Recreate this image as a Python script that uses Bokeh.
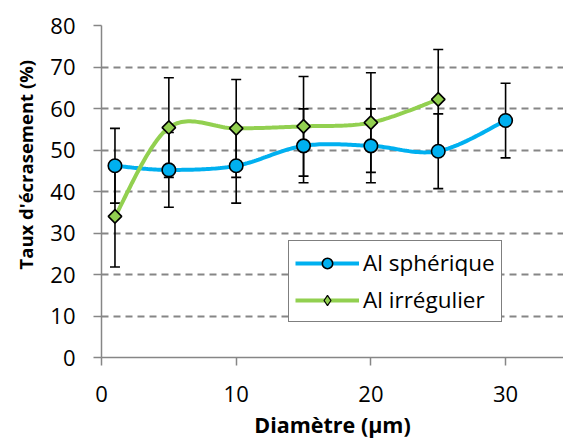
import math
import numpy as np
from bokeh.plotting import figure
from bokeh.models import (Range1d, FixedTicker, ColumnDataSource, Whisker, TeeHead,
                          Legend, LegendItem, Title)
from bokeh.embed import file_html
from bokeh.resources import INLINE

# ---- data ----
diam_sph = [1, 5, 10, 15, 20, 25, 30]
taux_sph = [46.2, 45.2, 46.2, 51.0, 51.0, 49.7, 57.1]
err_sph = [9.0, 9.0, 9.0, 8.9, 8.9, 9.0, 9.0]

diam_irr = [1, 5, 10, 15, 20, 25]
taux_irr = [34.0, 55.4, 55.2, 55.7, 56.6, 62.2]
err_irr = [12.2, 12.0, 11.8, 12.0, 12.0, 12.0]

x_ticks = [0, 10, 20, 30]
y_ticks = [0, 10, 20, 30, 40, 50, 60, 70, 80]

BLUE = "#00B0F0"
GREEN = "#92D050"
GRID = "#868686"
FONT = "Open Sans"


def smooth(xs, ys, n=30):
    """Excel-like smoothed line: cubic Bezier with Catmull-Rom control points."""
    P = np.column_stack([xs, ys]).astype(float)
    out = []
    m = len(P)
    for i in range(m - 1):
        p0 = P[i - 1] if i > 0 else P[i]
        p1 = P[i]
        p2 = P[i + 1]
        p3 = P[i + 2] if i + 2 < m else P[i + 1]
        c1 = p1 + (p2 - p0) / 6.0
        c2 = p2 - (p3 - p1) / 6.0
        t = np.linspace(0, 1, n, endpoint=(i == m - 2))[:, None]
        seg = ((1 - t) ** 3) * p1 + 3 * ((1 - t) ** 2) * t * c1 + 3 * (1 - t) * t ** 2 * c2 + t ** 3 * p2
        out.append(seg)
    c = np.vstack(out)
    return c[:, 0], c[:, 1]


p = figure(width=563, height=441, output_backend="svg", toolbar_location=None,
           x_range=Range1d(0, 34.3), y_range=Range1d(0, 80),
           min_border_left=100, min_border_right=0, min_border_top=25, min_border_bottom=83)
p.outline_line_color = None
p.background_fill_color = "white"
p.border_fill_color = "white"

# axes
for ax in (p.xaxis[0], p.yaxis[0]):
    ax.axis_line_color = GRID
    ax.axis_line_width = 1.5
    ax.major_tick_line_color = GRID
    ax.major_tick_line_width = 1.5
    ax.major_tick_out = 8
    ax.major_tick_in = 0
    ax.minor_tick_line_color = None
    ax.major_label_text_font = FONT
    ax.major_label_text_font_size = "22px"
    ax.major_label_text_color = "black"

p.xaxis.ticker = FixedTicker(ticks=x_ticks)
p.yaxis.ticker = FixedTicker(ticks=y_ticks)
p.xaxis.major_label_standoff = 20
p.yaxis.major_label_standoff = 18

p.xaxis.axis_label = "Diamètre (µm)"
p.xaxis.axis_label_text_font = FONT
p.xaxis.axis_label_text_font_style = "bold"
p.xaxis.axis_label_text_font_size = "21.5px"
p.xaxis.axis_label_text_color = "black"
p.xaxis.axis_label_standoff = 5

p.xgrid.grid_line_color = None
p.ygrid.ticker = FixedTicker(ticks=y_ticks[1:])
p.ygrid.grid_line_color = GRID
p.ygrid.grid_line_width = 1.8
p.ygrid.grid_line_dash = "7 5"

ytitle = Title(text="Taux d'écrasement (%)", align="left", offset=88,
               text_font=FONT, text_font_style="bold", text_font_size="18.5px",
               text_color="black", standoff=20)
p.add_layout(ytitle, "left")

# error bars
for xs, ys, es in ((diam_sph, taux_sph, err_sph), (diam_irr, taux_irr, err_irr)):
    src = ColumnDataSource(dict(x=xs, up=[y + e for y, e in zip(ys, es)],
                                lo=[y - e for y, e in zip(ys, es)]))
    w = Whisker(base="x", upper="up", lower="lo", source=src, dimension="height",
                line_color="black", line_width=1.6,
                upper_head=TeeHead(size=10, line_color="black", line_width=1.6),
                lower_head=TeeHead(size=10, line_color="black", line_width=1.6),
                level="underlay")
    p.add_layout(w)

# lines
sx, sy = smooth(diam_sph, taux_sph)
ix, iy = smooth(diam_irr, taux_irr)
l1 = p.line(sx, sy, line_color=BLUE, line_width=4)
l2 = p.line(ix, iy, line_color=GREEN, line_width=4)
m1 = p.scatter(diam_sph, taux_sph, marker="circle", size=13.5, fill_color=BLUE,
               line_color="black", line_width=1.6)
# legend glyph for the green series (the legend ignores marker rotation); it sits
# on the first green point and is fully covered by the rotated-square marker drawn next
m2_leg = p.scatter(diam_irr[:1], taux_irr[:1], marker="diamond", size=12,
                   fill_color=GREEN, line_color="black", line_width=1.2)
m2 = p.scatter(diam_irr, taux_irr, marker="square", angle=math.pi / 4, size=9.5,
               fill_color=GREEN, line_color="black", line_width=1.6)

legend = Legend(items=[LegendItem(label="Al sphérique", renderers=[l1, m1]),
                       LegendItem(label="Al irrégulier", renderers=[l2, m2_leg])],
                location=(187, 35))
legend.label_text_font = FONT
legend.label_text_font_size = "22.5px"
legend.label_text_color = "black"
legend.border_line_color = "black"
legend.border_line_width = 1.5
legend.background_fill_alpha = 1.0
legend.padding = 6
legend.margin = 0
legend.spacing = 6
legend.glyph_width = 64
legend.glyph_height = 26
legend.label_height = 26
legend.label_standoff = 4
p.add_layout(legend)

open("out.html", "w").write(file_html(p, INLINE))
